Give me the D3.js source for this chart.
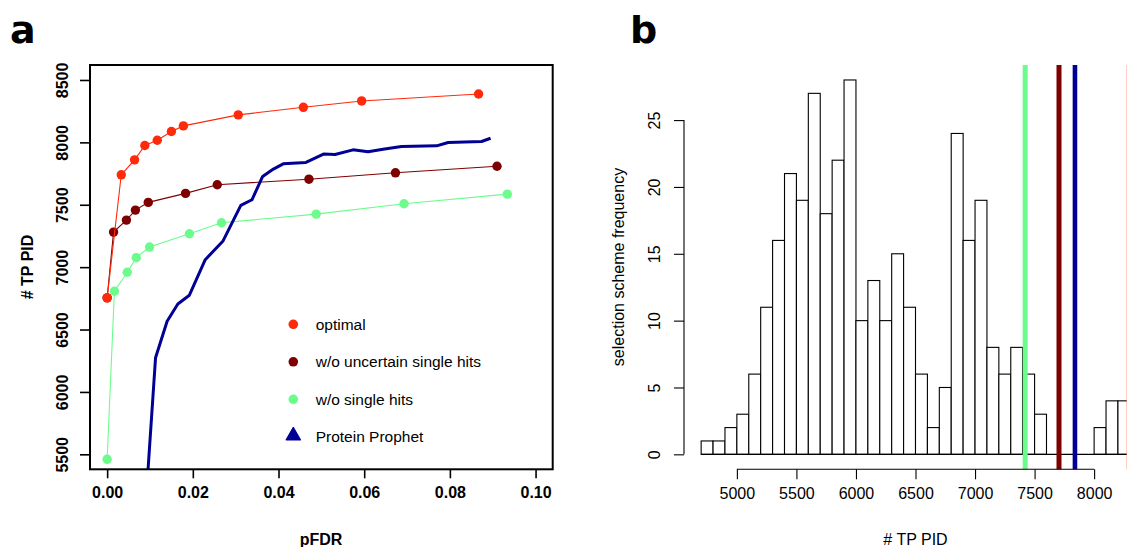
<!DOCTYPE html>
<html>
<head>
<meta charset="utf-8">
<script src="https://cdn.jsdelivr.net/npm/d3@7"></script>
<style>
  body { margin: 0; background: white; }
  text { font-family: "Liberation Sans", Arial, sans-serif; fill: black; }
</style>
</head>
<body>
<div id="chart"></div>
<script>
// panel a data (pFDR vs # TP PID)
const optFdr = [0, 0.0033, 0.0064, 0.0088, 0.0117, 0.0150, 0.0178, 0.0306, 0.0458, 0.0594, 0.0867];
const optTp = [6754, 7740, 7860, 7975, 8017, 8087, 8132, 8220, 8281, 8332, 8388];
const uncFdr = [0, 0.0015, 0.0045, 0.0066, 0.0096, 0.0183, 0.0257, 0.0471, 0.0673, 0.0910];
const uncTp = [6754, 7281, 7377, 7457, 7519, 7591, 7660, 7705, 7756, 7809];
const shFdr = [0, 0.0017, 0.0047, 0.0068, 0.0099, 0.0192, 0.0267, 0.0488, 0.0693, 0.0934];
const shTp = [5460, 6807, 6959, 7076, 7161, 7268, 7356, 7425, 7508, 7585];
const ppFdr = [0.0092, 0.0113, 0.0140, 0.0165, 0.0192, 0.0229, 0.0270, 0.0312, 0.0338, 0.0363, 0.0388, 0.0411,
               0.0464, 0.0505, 0.0532, 0.0574, 0.0609, 0.0644, 0.0687, 0.0769, 0.0796, 0.0874, 0.0895];
const ppTp = [5200, 6274, 6567, 6705, 6775, 7060, 7207, 7495, 7540, 7727, 7786, 7828,
              7839, 7906, 7903, 7940, 7924, 7945, 7967, 7972, 7999, 8007, 8033];
const legendLabels = ['optimal', 'w/o uncertain single hits', 'w/o single hits', 'Protein Prophet'];
const aXTicks = [0, 0.02, 0.04, 0.06, 0.08, 0.10];
const aYTicks = [5500, 6000, 6500, 7000, 7500, 8000, 8500];

// panel b data (histogram, bins of 100)
const binStart = [4700, 4800, 4900, 5000, 5100, 5200, 5300, 5400, 5500, 5600, 5700, 5800,
                  5900, 6000, 6100, 6200, 6300, 6400, 6500, 6600, 6700, 6800, 6900, 7000,
                  7100, 7200, 7300, 7400, 7500, 7600, 7700, 7800, 7900, 8000, 8100, 8200];
const binCount = [1, 1, 2, 3, 6, 11, 16, 21, 19, 27, 18, 22,
                  28, 10, 13, 10, 15, 11, 6, 2, 5, 24, 16, 19,
                  8, 6, 8, 6, 3, 0, 0, 0, 0, 2, 4, 4];
const refValues = [7421, 7705, 7839, 8281]; // w/o single hits, w/o uncertain, Protein Prophet, optimal
const bXTicks = [5000, 5500, 6000, 6500, 7000, 7500, 8000];
const bYTicks = [0, 5, 10, 15, 20, 25];

const colRed = '#ff2a0a', colDark = '#7f0000', colGreen = '#6cfc8c', colBlue = '#000094', colSalmon = '#ff8a78';

const width = 1127, height = 547;
let svg = d3.select('#chart').append('svg')
    .attr('width', width)
    .attr('height', height);

// ---------- panel a ----------
let ax = d3.scaleLinear().domain([-0.004, 0.104]).range([90, 552.7]);
let ay = d3.scaleLinear().domain([5380, 8620]).range([469.3, 65]);

svg.append('clipPath').attr('id', 'clipA')
  .append('rect')
    .attr('x', ax.range()[0]).attr('y', ay.range()[1])
    .attr('width', ax.range()[1] - ax.range()[0])
    .attr('height', ay.range()[0] - ay.range()[1]);

let gA = svg.append('g').attr('clip-path', 'url(#clipA)');

function drawSeries(fdr, tp, color) {
    let pts = fdr.map((f, i) => [ax(f), ay(tp[i])]);
    gA.append('path')
        .attr('d', d3.line()(pts))
        .attr('fill', 'none')
        .attr('stroke', color)
        .attr('stroke-width', 1.1);
    gA.selectAll(null)
        .data(pts)
        .enter()
        .append('circle')
        .attr('cx', d => d[0])
        .attr('cy', d => d[1])
        .attr('r', 4.7)
        .attr('fill', color);
}
drawSeries(shFdr, shTp, colGreen);
drawSeries(uncFdr, uncTp, colDark);
drawSeries(optFdr, optTp, colRed);

// protein prophet line
gA.append('path')
    .attr('d', d3.line()(ppFdr.map((f, i) => [ax(f), ay(ppTp[i])])))
    .attr('fill', 'none')
    .attr('stroke', colBlue)
    .attr('stroke-width', 3)
    .attr('stroke-linejoin', 'round');

// box
svg.append('rect')
    .attr('x', ax.range()[0]).attr('y', ay.range()[1])
    .attr('width', ax.range()[1] - ax.range()[0])
    .attr('height', ay.range()[0] - ay.range()[1])
    .attr('fill', 'none')
    .attr('stroke', 'black')
    .attr('stroke-width', 2);

// axes
let aXAxis = svg.append('g')
    .attr('transform', `translate(0,${ay.range()[0]})`)
    .call(d3.axisBottom(ax).tickValues(aXTicks).tickFormat(d3.format('.2f')).tickSize(9).tickPadding(8));
let aYAxis = svg.append('g')
    .attr('transform', `translate(${ax.range()[0]},0)`)
    .call(d3.axisLeft(ay).tickValues(aYTicks).tickFormat(d3.format('d')).tickSize(10));
[aXAxis, aYAxis].forEach(a => {
    a.select('.domain').remove();
    a.selectAll('line').attr('stroke-width', 1.6);
    a.selectAll('text').style('font-size', '16px').style('font-weight', 'bold');
});
aXAxis.selectAll('text').attr('y', 17);
aYAxis.selectAll('text')
    .attr('x', null).attr('dy', null)
    .attr('text-anchor', 'middle')
    .attr('dominant-baseline', 'central')
    .attr('transform', 'translate(-28,0)rotate(-90)');

svg.append('text')
    .attr('x', 321)
    .attr('y', 545)
    .attr('text-anchor', 'middle')
    .style('font-size', '16px').style('font-weight', 'bold')
    .text('pFDR');
svg.append('text')
    .attr('transform', 'translate(33,267)rotate(-90)')
    .attr('text-anchor', 'middle')
    .style('font-size', '16px').style('font-weight', 'bold')
    .text('# TP PID');

// legend
let legColors = [colRed, colDark, colGreen, colBlue];
let legend = svg.append('g').attr('transform', 'translate(293.3,324.3)');
legendLabels.forEach((lab, i) => {
    let yy = i * 37.5;
    if (i < 3) {
        legend.append('circle').attr('cx', 0).attr('cy', yy).attr('r', 4.8).attr('fill', legColors[i]);
    } else {
        legend.append('path')
            .attr('d', d3.symbol().type(d3.symbolTriangle).size(85)())
            .attr('transform', `translate(0,${yy - 1})`)
            .attr('fill', legColors[i])
            .attr('stroke', legColors[i])
            .attr('stroke-width', 1.5)
            .attr('stroke-linejoin', 'round');
    }
    legend.append('text')
        .attr('x', 22.4)
        .attr('y', yy + 5.7)
        .style('font-size', '15.5px')
        .text(lab);
});

svg.append('text')
    .attr('x', 10).attr('y', 43)
    .style('font-family', '"DejaVu Sans", sans-serif')
    .style('font-size', '38px').style('font-weight', 'bold')
    .text('a');

// ---------- panel b ----------
let bx = d3.scaleLinear().domain([4556, 8444]).range([684, 1147]);
let by = d3.scaleLinear().domain([-1.12, 29.12]).range([469.3, 65]);

let gB = svg.append('g');
gB.selectAll('.bar')
    .data(binStart)
    .enter()
    .append('rect')
    .attr('class', 'bar')
    .attr('x', d => bx(d))
    .attr('width', d => bx(d + 100) - bx(d))
    .attr('y', (d, i) => by(binCount[i]))
    .attr('height', (d, i) => by(0) - by(binCount[i]))
    .attr('fill', 'white')
    .attr('stroke', 'black')
    .attr('stroke-width', 1.1);
// empty bins still get their flat outline along zero
gB.append('line')
    .attr('x1', bx(binStart[0]))
    .attr('x2', bx(binStart[binStart.length - 1] + 100))
    .attr('y1', by(0)).attr('y2', by(0))
    .attr('stroke', 'black')
    .attr('stroke-width', 1.1);

// reference lines
let refColors = [colGreen, colDark, colBlue, colSalmon];
let refWidths = [5, 5, 4.6, 2];
refValues.forEach((v, i) => {
    gB.append('line')
        .attr('x1', bx(v)).attr('x2', bx(v))
        .attr('y1', by.range()[1]).attr('y2', by.range()[0])
        .attr('stroke', refColors[i])
        .attr('stroke-width', refWidths[i]);
});

let bXAxis = svg.append('g')
    .attr('transform', `translate(0,${by.range()[0]})`)
    .call(d3.axisBottom(bx).tickValues(bXTicks).tickFormat(d3.format('d')).tickSize(10).tickPadding(8));
bXAxis.select('.domain').attr('d', `M${bx(5000)},0H${bx(8000)}`);
let bYAxis = svg.append('g')
    .attr('transform', `translate(${bx.range()[0]},0)`)
    .call(d3.axisLeft(by).tickValues(bYTicks).tickSize(10));
bYAxis.select('.domain').attr('d', `M0,${by(0)}V${by(25)}`);
[bXAxis, bYAxis].forEach(a => {
    a.selectAll('path, line').attr('stroke-width', 1.1);
    a.selectAll('text').style('font-size', '16px');
});
bXAxis.selectAll('text').attr('y', 18);
bYAxis.selectAll('text')
    .attr('x', null).attr('dy', null)
    .attr('text-anchor', 'middle')
    .attr('dominant-baseline', 'central')
    .attr('transform', 'translate(-30,0)rotate(-90)');

svg.append('text')
    .attr('x', 915.5).attr('y', 545)
    .attr('text-anchor', 'middle')
    .style('font-size', '16px')
    .text('# TP PID');
svg.append('text')
    .attr('transform', 'translate(624,267)rotate(-90)')
    .attr('text-anchor', 'middle')
    .style('font-size', '16px')
    .text('selection scheme frequency');

svg.append('text')
    .attr('x', 630).attr('y', 43)
    .style('font-family', '"DejaVu Sans", sans-serif')
    .style('font-size', '38px').style('font-weight', 'bold')
    .text('b');
</script>
</body>
</html>
